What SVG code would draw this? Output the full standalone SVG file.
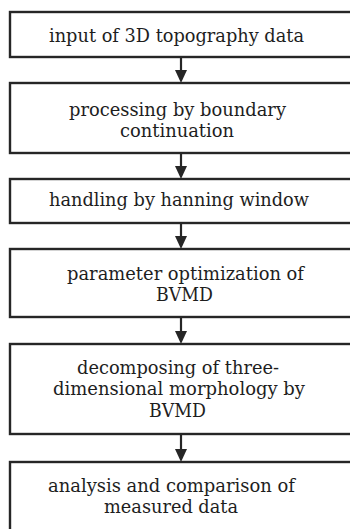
<svg xmlns="http://www.w3.org/2000/svg" width="350" height="529" viewBox="0 0 350 529">
<defs>
<style>
.box{fill:#fff;stroke:#262626;stroke-width:2.4}
.t{font-family:'DejaVu Serif','Liberation Serif',serif;font-size:18px;fill:#1e1e1e;text-anchor:middle}
.c{stroke:#262626;stroke-width:2.2;fill:none}
.h{fill:#262626}
</style>
</defs>
<rect width="350" height="529" fill="#fff"/>
<g id="connectors">
<line class="c" x1="181" y1="57" x2="181" y2="72"/><polygon class="h" points="175,70 187,70 181,83"/>
<line class="c" x1="181" y1="153" x2="181" y2="168"/><polygon class="h" points="175,166 187,166 181,179"/>
<line class="c" x1="181" y1="223" x2="181" y2="238"/><polygon class="h" points="175,236 187,236 181,249"/>
<line class="c" x1="181" y1="317" x2="181" y2="332"/><polygon class="h" points="175,331 187,331 181,344"/>
<line class="c" x1="181" y1="434" x2="181" y2="450"/><polygon class="h" points="175,449 187,449 181,462"/>
</g>
<g id="n1"><rect class="box" x="10" y="12" width="350" height="45"/>
<text class="t" x="176.5" y="42" textLength="255" lengthAdjust="spacingAndGlyphs">input of 3D topography data</text></g>
<g id="n2"><rect class="box" x="10" y="83" width="350" height="70"/>
<text class="t" x="177.5" y="116" textLength="217" lengthAdjust="spacingAndGlyphs">processing by boundary</text>
<text class="t" x="177" y="137" textLength="114" lengthAdjust="spacingAndGlyphs">continuation</text></g>
<g id="n3"><rect class="box" x="10" y="179" width="350" height="44"/>
<text class="t" x="179" y="206" textLength="260" lengthAdjust="spacingAndGlyphs">handling by hanning window</text></g>
<g id="n4"><rect class="box" x="10" y="249" width="350" height="68"/>
<text class="t" x="185.5" y="280" textLength="237" lengthAdjust="spacingAndGlyphs">parameter optimization of</text>
<text class="t" x="184.5" y="301" textLength="57" lengthAdjust="spacingAndGlyphs">BVMD</text></g>
<g id="n5"><rect class="box" x="10" y="344" width="350" height="90"/>
<text class="t" x="178" y="373.5" textLength="202" lengthAdjust="spacingAndGlyphs">decomposing of three-</text>
<text class="t" x="179" y="395" textLength="252" lengthAdjust="spacingAndGlyphs">dimensional morphology by</text>
<text class="t" x="177.5" y="416.5" textLength="57" lengthAdjust="spacingAndGlyphs">BVMD</text></g>
<g id="n6"><rect class="box" x="10" y="462" width="350" height="90"/>
<text class="t" x="171.5" y="492" textLength="247" lengthAdjust="spacingAndGlyphs">analysis and comparison of</text>
<text class="t" x="171" y="513" textLength="134" lengthAdjust="spacingAndGlyphs">measured data</text></g>
</svg>
